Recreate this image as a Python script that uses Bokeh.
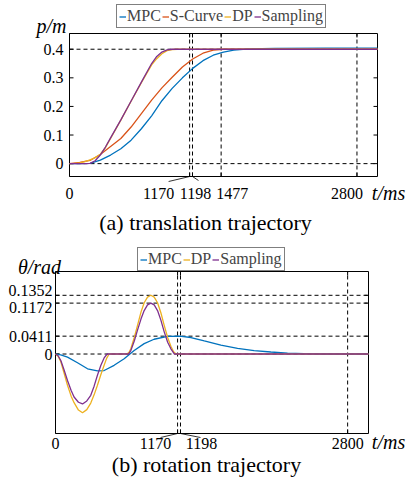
from bokeh.plotting import figure
from bokeh.models import Range1d, Label, Legend
from bokeh.layouts import column
from bokeh.embed import file_html
from bokeh.resources import INLINE

# ---------------- data: (a) translation trajectory ----------------
t_mpc_a = [0, 100, 200, 300, 400, 500, 600, 700, 800, 900, 1000, 1100, 1200, 1300,
           1400, 1500, 1600, 1750, 2000, 2500, 3000]
p_mpc = [0, 0, 0.001, 0.012, 0.03, 0.052, 0.082, 0.122, 0.167, 0.22, 0.263, 0.30,
         0.333, 0.36, 0.379, 0.39, 0.397, 0.401, 0.403, 0.404, 0.404]

t_sc_a = [0, 100, 200, 300, 400, 500, 600, 700, 800, 900, 1000, 1100, 1200, 1300,
          1400, 1500, 3000]
p_scurve = [0, 0.004, 0.011, 0.032, 0.06, 0.088, 0.128, 0.175, 0.222, 0.265, 0.302,
            0.338, 0.366, 0.386, 0.397, 0.4, 0.4]

t_dp_a = [0, 50, 100, 150, 200, 250, 300, 350, 400, 500, 600, 700, 800, 850, 900,
          950, 1000, 1050, 3000]
p_dp = [0, 0.001, 0.003, 0.007, 0.013, 0.021, 0.033, 0.056, 0.088, 0.152, 0.218,
        0.283, 0.345, 0.367, 0.384, 0.395, 0.399, 0.4, 0.4]

t_sa_a = [0, 150, 200, 250, 300, 350, 400, 500, 600, 700, 800, 850, 900, 950, 1000, 3000]
p_sampling = [0, 0, 0.001, 0.01, 0.03, 0.058, 0.09, 0.153, 0.219, 0.285, 0.35, 0.375,
              0.39, 0.398, 0.4, 0.4]

xticks_a = [0, 1170, 1198, 1477, 2800]
xlabels_a = ["0", "1170", "1198", "1477", "2800"]
yticks_a = [0, 0.1, 0.2, 0.3, 0.4]
ylabels_a = ["0", "0.1", "0.2", "0.3", "0.4"]
vlines_a = [1170, 1198, 1477, 2800]
hlines_a = [0, 0.4]

# ---------------- data: (b) rotation trajectory ----------------
t_mpc_b = [0, 50, 115, 211, 307, 402, 466, 562, 658, 754, 850, 945, 1074, 1190, 1298,
           1426, 1585, 1745, 1904, 2064, 2224, 2381, 2550, 3000]
th_mpc = [0, -0.002, -0.007, -0.02, -0.034, -0.039, -0.038, -0.026, -0.011, 0.008,
          0.024, 0.034, 0.0405, 0.0411, 0.038, 0.03, 0.0206, 0.013, 0.0076, 0.0046,
          0.002, 0.0008, 0.0001, 0]

t_dp_b = [0, 25, 51, 80, 115, 150, 178, 220, 259, 300, 338, 370, 402, 435, 466, 490,
          514, 685, 705, 722, 755, 786, 820, 850, 882, 914, 946, 978, 1010, 1042, 1075,
          1106, 1132, 1155, 3000]
th_dp = [0, -0.005, -0.018, -0.042, -0.072, -0.097, -0.112, -0.129, -0.1352, -0.128,
         -0.113, -0.094, -0.072, -0.047, -0.026, -0.01, 0, 0, 0.004, 0.012, 0.038, 0.066,
         0.097, 0.118, 0.131, 0.1352, 0.131, 0.118, 0.095, 0.066, 0.038, 0.018, 0.005, 0, 0]

t_sa_b = [0, 25, 51, 80, 115, 150, 178, 220, 259, 300, 338, 370, 402, 435, 466, 495,
          700, 722, 755, 786, 820, 850, 882, 914, 946, 978, 1010, 1042, 1075, 1106,
          1140, 3000]
th_sa = [0, -0.004, -0.015, -0.035, -0.061, -0.084, -0.099, -0.111, -0.115, -0.108,
         -0.095, -0.074, -0.049, -0.026, -0.009, 0, 0, 0.008, 0.03, 0.055, 0.081, 0.1,
         0.113, 0.1172, 0.113, 0.1, 0.078, 0.051, 0.027, 0.012, 0, 0]

xticks_b = [0, 1170, 1198, 2800]
xlabels_b = ["0", "1170", "1198", "2800"]
yticks_b = [0, 0.0411, 0.1172, 0.1352]
ylabels_b = ["0", "0.0411", "0.1172", "0.1352"]
vlines_b = [1170, 1198, 2800]
hlines_b = [0, 0.0411, 0.1172, 0.1352]

# ---------------- styles ----------------
FONT = "Liberation Serif"
BLUE, ORANGE, YELLOW, PURPLE = "#0072BD", "#D95319", "#EDB120", "#7E2F8E"
LW = 1.3
TICK_FS = "16px"
CAP_FS = "22px"
LAB_FS = "20px"
LEG_FS = "16px"
DASH = "4 3"
TICK_LEN = 4


class Panel:
    """A figure whose frame is the whole canvas; the plot box is drawn in it."""

    def __init__(self, W, H, box, xr, yr):
        l, t, r, b = box
        self.sx = (xr[1] - xr[0]) / (r - l)
        self.sy = (yr[1] - yr[0]) / (b - t)
        self.xr, self.yr = xr, yr
        cx = (xr[0] - l * self.sx, xr[1] + (W - r) * self.sx)
        cy = (yr[0] - (H - b) * self.sy, yr[1] + t * self.sy)
        p = figure(width=W, height=H, x_range=Range1d(*cx), y_range=Range1d(*cy),
                   min_border=0, output_backend="svg", toolbar_location=None,
                   title=None)
        p.axis.visible = False
        p.grid.visible = False
        p.outline_line_color = None
        p.background_fill_color = "white"
        p.border_fill_color = "white"
        self.p = p

    def frame(self, xticks, yticks, vlines, hlines):
        p, (x0, x1), (y0, y1) = self.p, self.xr, self.yr
        p.segment(x0=vlines, y0=[y0] * len(vlines), x1=vlines, y1=[y1] * len(vlines),
                  line_color="black", line_width=1, line_dash=DASH)
        p.segment(x0=[x0] * len(hlines), y0=hlines, x1=[x1] * len(hlines), y1=hlines,
                  line_color="black", line_width=1, line_dash=DASH)
        dx, dy = TICK_LEN * self.sx, TICK_LEN * self.sy
        n = len(yticks)
        p.segment(x0=[x0] * n, y0=yticks, x1=[x0 + dx] * n, y1=yticks, line_color="black")
        p.segment(x0=[x1] * n, y0=yticks, x1=[x1 - dx] * n, y1=yticks, line_color="black")
        m = len(xticks)
        p.segment(x0=xticks, y0=[y0] * m, x1=xticks, y1=[y0 + dy] * m, line_color="black")
        p.segment(x0=xticks, y0=[y1] * m, x1=xticks, y1=[y1 - dy] * m, line_color="black")
        p.quad(left=[x0], right=[x1], bottom=[y0], top=[y1], fill_color=None,
               line_color="black", line_width=1)

    def text(self, x, y, text, dx=0, dy=0, align="center", size=TICK_FS, style="normal"):
        self.p.add_layout(Label(x=x, y=y, text=text, x_offset=dx, y_offset=dy,
                                text_align=align, text_baseline="middle",
                                text_font=FONT, text_font_size=size,
                                text_font_style=style, text_color="black"))

    def leader(self, xv, dx_px, dy_px):
        y0 = self.yr[0]
        self.p.segment(x0=[xv], y0=[y0], x1=[xv + dx_px * self.sx],
                       y1=[y0 - dy_px * self.sy], line_color="black", line_width=0.8)

    def legend(self, items, loc):
        lg = Legend(items=items, orientation="horizontal", location=loc,
                    glyph_width=7, glyph_height=17, label_height=17, label_standoff=1,
                    spacing=1, padding=2, margin=0, border_line_color="black",
                    border_line_width=1, label_text_font=FONT,
                    label_text_font_size=LEG_FS, background_fill_color="white",
                    background_fill_alpha=1)
        self.p.add_layout(lg)


XR = (0, 3000)

# ---------------- figure (a) ----------------
A = Panel(407, 240, (69, 33, 377, 176), XR, (-0.045, 0.455))
A.frame(xticks_a, yticks_a, vlines_a, hlines_a)
r1 = A.p.line(t_mpc_a, p_mpc, line_color=BLUE, line_width=LW)
r2 = A.p.line(t_sc_a, p_scurve, line_color=ORANGE, line_width=LW)
r3 = A.p.line(t_dp_a, p_dp, line_color=YELLOW, line_width=LW)
r4 = A.p.line(t_sa_a, p_sampling, line_color=PURPLE, line_width=LW)
A.legend([("MPC", [r1]), ("S-Curve", [r2]), ("DP", [r3]), ("Sampling", [r4])],
         (116, 212))

dx_a = [0, -31, 3, 11, -10]
for v, lab, d in zip(xticks_a, xlabels_a, dx_a):
    A.text(v, A.yr[0], lab, dx=d, dy=-17)
for v, lab in zip(yticks_a, ylabels_a):
    A.text(A.xr[0], v, lab, dx=-6, align="right")
A.leader(1170, -21, 5)
A.leader(1198, 6, 4)
A.text(A.xr[0], A.yr[1], "p/m", dx=-18, dy=8, size=LAB_FS, style="italic")
A.text(A.xr[1], A.yr[0], "t/ms", dx=11, dy=-16, size=LAB_FS, style="italic")
A.text(A.xr[0], A.yr[0], "(a) translation trajectory", dx=136, dy=-46, size=CAP_FS)

# ---------------- figure (b) ----------------
B = Panel(407, 244, (55, 31, 368, 193), XR, (-0.183, 0.19))
B.frame(xticks_b, yticks_b, vlines_b, hlines_b)
s1 = B.p.line(t_mpc_b, th_mpc, line_color=BLUE, line_width=LW)
s3 = B.p.line(t_dp_b, th_dp, line_color=YELLOW, line_width=LW)
s4 = B.p.line(t_sa_b, th_sa, line_color=PURPLE, line_width=LW)
B.legend([("MPC", [s1]), ("DP", [s3]), ("Sampling", [s4])], (137, 213))

dx_b = [0, -22, 21, 0]
for v, lab, d in zip(xticks_b, xlabels_b, dx_b):
    B.text(v, B.yr[0], lab, dx=d, dy=-10)
dy_b = [0, 0, -4, 5]
for v, lab, d in zip(yticks_b, ylabels_b, dy_b):
    B.text(B.xr[0], v, lab, dx=-3, dy=d, align="right")
B.leader(1170, -17, 4)
B.leader(1198, 20, 4)
B.text(B.xr[0], B.yr[1], "\u03b8/rad", dx=-16, dy=5, size=LAB_FS, style="italic")
B.text(B.xr[1], B.yr[0], "t/ms", dx=20, dy=-8, size=LAB_FS, style="italic")
B.text(B.xr[0], B.yr[0], "(b) rotation trajectory", dx=151, dy=-31, size=CAP_FS)

layout = column(A.p, B.p)
open("out.html", "w").write(file_html(layout, INLINE))
